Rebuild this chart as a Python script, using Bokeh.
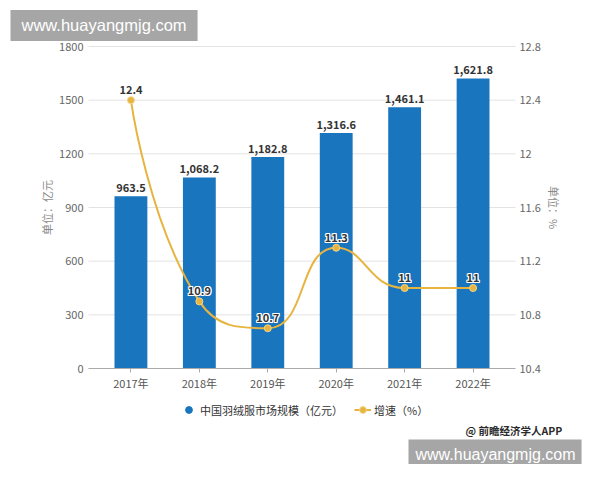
import math
from bokeh.plotting import figure
from bokeh.models import (Range1d, LinearAxis, FixedTicker, CustomJSTickFormatter,
                          ColumnDataSource, Legend, LegendItem, Label)
from bokeh.embed import file_html
from bokeh.resources import INLINE
from bokeh.core.properties import value

# ---------------- data ----------------
years = ["2017年", "2018年", "2019年", "2020年", "2021年", "2022年"]
market = [963.5, 1068.2, 1182.8, 1316.6, 1461.1, 1621.8]       # 亿元
growth = [12.4, 10.9, 10.7, 11.3, 11.0, 11.0]                   # %
left_ticks = [0, 300, 600, 900, 1200, 1500, 1800]
right_ticks = [10.4, 10.8, 11.2, 11.6, 12.0, 12.4, 12.8]
bar_name = "中国羽绒服市场规模（亿元）"
line_name = "增速（%）"
left_title = "单位：亿元"
right_title = "单位：%"
credit = "@ 前瞻经济学人APP"
site = "www.huayangmjg.com"

# ---------------- layout constants (pixels in the canvas) ----------------
FONT = "Noto Sans CJK SC"
BAR = "#1a75bf"
GOLD = "#e6b43f"
W, H = 584, 464
PL, PR, PT, PB = 88, 515, 46, 368          # plot area inside the canvas
X0, X1 = -0.62, 5.62                       # category range across the plot area

# the frame covers the whole canvas; ranges are extended so that the plot
# area lands at PL..PR / PT..PB, and axes are pinned with fixed_location
sx = (PR - PL) / (X1 - X0)
xr = Range1d(X0 - PL / sx, X1 + (W - PR) / sx)
L0, L1 = left_ticks[0], left_ticks[-1]
sl = (PB - PT) / (L1 - L0)
yr = Range1d(L0 - (H - PB) / sl, L1 + PT / sl)
R0, R1 = right_ticks[0], right_ticks[-1]
sr = (PB - PT) / (R1 - R0)
rr = Range1d(R0 - (H - PB) / sr, R1 + PT / sr)

p = figure(width=W, height=H, output_backend="svg", toolbar_location=None,
           x_range=xr, y_range=yr,
           min_border=0, min_border_left=0, min_border_right=0,
           min_border_top=0, min_border_bottom=0)
p.extra_y_ranges = {"rate": rr}
p.outline_line_color = None
p.background_fill_color = "white"
p.border_fill_color = "white"
p.xgrid.visible = False
p.ygrid.visible = False

xs = list(range(len(years)))

# horizontal grid lines at the left-axis ticks, limited to the plot area
p.segment(x0=[X0] * len(left_ticks), x1=[X1] * len(left_ticks),
          y0=left_ticks, y1=left_ticks, line_color="#e3e3e3", line_width=1)

# x axis
xa = p.xaxis[0]
xa.fixed_location = L0
xa.bounds = (X0, X1)
xa.ticker = FixedTicker(ticks=xs)
xa.major_label_overrides = {i: y for i, y in enumerate(years)}
xa.axis_line_color = "#aaaaaa"
xa.major_tick_line_color = "#aaaaaa"
xa.major_tick_out = 4
xa.major_tick_in = 0
xa.minor_tick_line_color = None
xa.major_label_standoff = 2
xa.major_label_text_font = FONT
xa.major_label_text_font_size = "11px"
xa.major_label_text_color = "#555555"

# left axis
ya = p.yaxis[0]
ya.fixed_location = X0
ya.bounds = (L0, L1)
ya.ticker = FixedTicker(ticks=left_ticks)
ya.axis_line_color = None
ya.major_tick_line_color = None
ya.minor_tick_line_color = None
ya.major_tick_out = 0
ya.major_label_standoff = 5
ya.major_label_text_font = FONT
ya.major_label_text_font_size = "11px"
ya.major_label_text_color = "#666666"
ya.axis_label = left_title
ya.axis_label_text_font = FONT
ya.axis_label_text_font_size = "11px"
ya.axis_label_text_font_style = "normal"
ya.axis_label_text_color = "#8a8a8a"
ya.axis_label_standoff = 1

# right axis
ra = LinearAxis(y_range_name="rate", fixed_location=X1, bounds=(R0, R1))
ra.ticker = FixedTicker(ticks=right_ticks)
ra.formatter = CustomJSTickFormatter(code="return (Math.round(tick*10)/10).toString();")
ra.axis_line_color = None
ra.major_tick_line_color = None
ra.minor_tick_line_color = None
ra.major_tick_out = 0
ra.major_label_standoff = 4
ra.major_label_text_font = FONT
ra.major_label_text_font_size = "11px"
ra.major_label_text_color = "#666666"
ra.axis_label = right_title
ra.axis_label_text_font = FONT
ra.axis_label_text_font_size = "11px"
ra.axis_label_text_font_style = "normal"
ra.axis_label_text_color = "#8a8a8a"
ra.axis_label_standoff = 2
p.add_layout(ra, "right")

# bars
bsrc = ColumnDataSource(dict(x=xs, top=market,
                             lab=[f"{v:,.1f}" for v in market]))
bars = p.vbar(x="x", top="top", bottom=L0, width=0.48, source=bsrc,
              fill_color=BAR, line_color=None)
p.text(x="x", y="top", text="lab", source=bsrc, y_offset=-4,
       text_align="center", text_baseline="bottom",
       text_font=value(FONT), text_font_size="11px",
       text_font_style="bold", text_color="#333333")

# smooth growth curve (ECharts-style constrained bezier, computed in pixel space)
P = [(x * sx, g * sr) for x, g in zip(xs, growth)]
smooth = 0.5
n = len(P)
seg = dict(x0=[], y0=[], x1=[], y1=[], cx0=[], cy0=[], cx1=[], cy1=[])
cp0 = P[0]
for k in range(1, n):
    x, y = P[k]
    px, py = P[k - 1]
    if k == n - 1:
        cp1 = (x, y)
        ncp0 = None
    else:
        nx, ny = P[k + 1]
        vx, vy = nx - px, ny - py
        l0 = math.hypot(x - px, y - py)
        l1 = math.hypot(nx - x, ny - y)
        r = l1 / (l0 + l1)
        ncx = x + vx * smooth * r
        ncy = y + vy * smooth * r
        ncx = max(min(ncx, max(nx, x)), min(nx, x))
        ncy = max(min(ncy, max(ny, y)), min(ny, y))
        vx, vy = ncx - x, ncy - y
        c1x = x - vx * l0 / l1
        c1y = y - vy * l0 / l1
        c1x = max(min(c1x, max(px, x)), min(px, x))
        c1y = max(min(c1y, max(py, y)), min(py, y))
        vx, vy = x - c1x, y - c1y
        ncx = x + vx * l1 / l0
        ncy = y + vy * l1 / l0
        cp1 = (c1x, c1y)
        ncp0 = (ncx, ncy)
    seg["x0"].append(px / sx); seg["y0"].append(py / sr)
    seg["x1"].append(x / sx); seg["y1"].append(y / sr)
    seg["cx0"].append(cp0[0] / sx); seg["cy0"].append(cp0[1] / sr)
    seg["cx1"].append(cp1[0] / sx); seg["cy1"].append(cp1[1] / sr)
    cp0 = ncp0

bez = p.bezier(x0="x0", y0="y0", x1="x1", y1="y1", cx0="cx0", cy0="cy0",
               cx1="cx1", cy1="cy1", source=ColumnDataSource(seg),
               line_color=GOLD, line_width=2, y_range_name="rate")

gsrc = ColumnDataSource(dict(x=xs, y=growth, lab=[f"{v:g}" for v in growth]))
pts = p.scatter(x="x", y="y", source=gsrc, marker="circle", size=7,
                fill_color=GOLD, line_color="#f3d58a", line_width=1,
                y_range_name="rate")

# growth labels: dark text with white halo
for dx, dy in [(-1, 0), (1, 0), (0, -1), (0, 1), (-1, -1), (1, 1), (-1, 1), (1, -1)]:
    p.text(x="x", y="y", text="lab", source=gsrc, x_offset=dx, y_offset=-6 + dy,
           text_align="center", text_baseline="bottom",
           text_font=value(FONT), text_font_size="11px", text_font_style="bold",
           text_color="white", y_range_name="rate")
p.text(x="x", y="y", text="lab", source=gsrc, y_offset=-6,
       text_align="center", text_baseline="bottom",
       text_font=value(FONT), text_font_size="11px", text_font_style="bold",
       text_color="#333333", y_range_name="rate")

# legend (bar item drawn as a circle, like the original)
circ = p.scatter(x="x", y="top", source=bsrc, marker="circle", size=0,
                 fill_color=BAR, line_color=BAR)
legend = Legend(items=[LegendItem(label=bar_name, renderers=[circ]),
                       LegendItem(label=line_name, renderers=[bez, pts])],
                orientation="horizontal", location=(180, H - 418),
                border_line_color=None, background_fill_alpha=0,
                label_text_font=FONT, label_text_font_size="11px",
                label_text_color="#333333", glyph_width=17, glyph_height=17,
                label_standoff=3, spacing=11, padding=6, margin=0)
p.add_layout(legend, "center")

# credit line and site boxes (screen units, canvas = frame)
p.add_layout(Label(x=465, y=H - 430, x_units="screen", y_units="screen",
                   text=credit, text_font=FONT, text_font_size="10.5px",
                   text_font_style="bold", text_color="#2a2a2a",
                   text_align="left", text_baseline="middle"))
p.add_layout(Label(x=10, y=H - 25, x_units="screen", y_units="screen",
                   text=site, text_font="Liberation Sans", text_font_size="16.5px",
                   text_color="white", text_align="left", text_baseline="middle",
                   background_fill_color="#a6a6a6",
                   padding=dict(left=11, right=11, top=6, bottom=7)))
p.add_layout(Label(x=408, y=H - 454, x_units="screen", y_units="screen",
                   text=site, text_font="Liberation Sans", text_font_size="16px",
                   text_color="white", text_align="left", text_baseline="middle",
                   background_fill_color="#a6a6a6",
                   padding=dict(left=7, right=6, top=6, bottom=7)))

open("out.html", "w").write(file_html(p, INLINE))
